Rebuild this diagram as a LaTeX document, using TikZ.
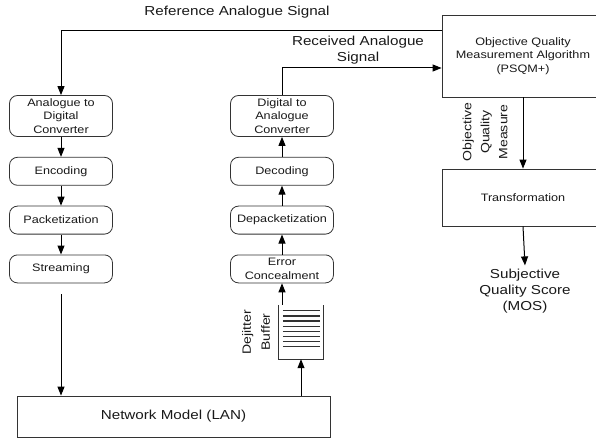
\documentclass[tikz,border=0pt]{standalone}
\usepackage{fontspec}
\setmainfont{Liberation Sans}[FakeStretch=1.17]
\usetikzlibrary{arrows.meta, positioning}

\begin{document}
\begin{tikzpicture}[
		x=1pt, y=-1pt,
		node distance=20pt,
		>={Triangle[length=9pt,width=7pt]},
		font=\fontsize{10.8}{13.3}\selectfont,
		stage/.style  ={draw=black!80, line width=0.8pt, rounded corners=8pt, align=center, text=black!90, inner sep=1pt, minimum width=103pt, minimum height=28pt},
		convert/.style={stage, minimum height=41pt},
		block/.style  ={draw=black!80, line width=0.8pt, align=center, text=black!90, inner sep=2pt},
		sig/.style    ={align=center, text=black!90, font=\fontsize{13}{16}\selectfont},
		vlab/.style   ={align=center, text=black!90, rotate=90, font=\fontsize{12}{18}\selectfont},
		flow/.style   ={->, line width=1pt},
		bufline/.style={line width=1.3pt, black!80}
		]
		
		\clip (0,0) rectangle (596,438);
		
		% --- Sender side ---
		\node[convert] (adc) at (61,116) {Analogue to\\Digital\\Converter};
		\node[stage, below=of adc]  (enc)    {Encoding};
		\node[stage, below=of enc]  (pack)   {Packetization};
		\node[stage, below=of pack] (stream) {Streaming};
		
		\draw[flow] (adc)  -- (enc);
		\draw[flow] (enc)  -- (pack);
		\draw[flow] (pack) -- (stream);
		
		% --- Network ---
		\node[block, minimum width=313pt, minimum height=41pt, font=\fontsize{13}{16}\selectfont] (net) at (173.5,416.5) {Network Model (LAN)};
		
		\coordinate[below=11pt of stream.south] (strout);
		\draw[flow] (strout) -- (strout |- net.north);
		
		% --- Receiver side ---
		\node[convert] (dac) at (282,116) {Digital to\\Analogue\\Converter};
		\node[stage, below=of dac]   (dec)    {Decoding};
		\node[stage, below=of dec]   (depack) {Depacketization};
		\node[stage, below=of depack](err)    {Error\\Concealment};
		
		% dejitter buffer: open at the top
		\node[minimum width=44pt, minimum height=54pt, inner sep=0pt] (buffer) at (301,332) {};
		\draw[black!80, line width=0.8pt] (buffer.north west) -- (buffer.south west) -- (buffer.south east) -- (buffer.north east);
		\foreach \i in {0,...,7}
			\draw[bufline] ([xshift=4pt, yshift=-6pt-\i*5.14pt]buffer.north west) -- ++(37,0);
		\node[vlab, font=\fontsize{12}{19}\selectfont] (buflab) at (256,332) {Dejitter\\Buffer};
		
		\draw[flow] (net.north -| buffer) -- (buffer.south);
		\draw[flow] (buffer.north -| err) -- (err.south);
		\draw[flow] (err)    -- (depack);
		\draw[flow] (depack) -- (dec);
		\draw[flow] (dec)    -- (dac);
		
		% --- Measurement ---
		\node[block, minimum width=162pt, minimum height=82pt] (oqma) at (523,56) {Objective Quality\\Measurement Algorithm\\(PSQM+)};
		\node[block, minimum width=162pt, minimum height=57pt] (trans) at (523,197.5) {Transformation};
		\node[sig] (mos) at (525,291) {Subjective\\Quality Score\\(MOS)};
		
		\draw[flow] (oqma.south) -- (trans.north);
		\node[vlab] (oqmlab) at (485,132) {Objective\\Quality\\Measure};
		\draw[flow] (trans.south) -- (mos.north);
		
		% --- Signal routes ---
		\coordinate (refline) at (0,31);
		\coordinate (recline) at (0,68);
		
		\draw[flow] (oqma.west |- refline) -| (adc.north);
		\draw[flow] (dac.north) |- (oqma.west |- recline);
		
		\node[sig] (reflab) at (237,12) {Reference Analogue Signal};
		\node[sig] (reclab) at (358,50) {Received Analogue\\Signal};
		
	\end{tikzpicture}
\end{document}
